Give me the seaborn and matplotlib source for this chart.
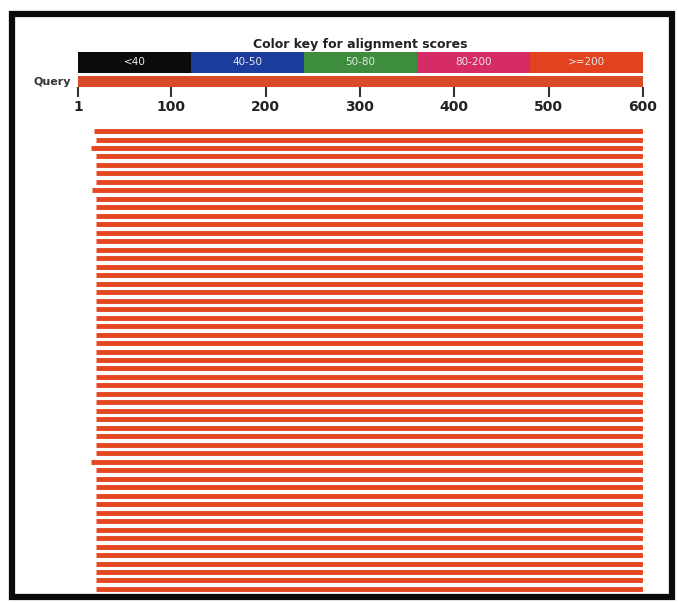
import numpy as np
import pandas as pd
import seaborn as sns
from matplotlib import pyplot as plt
from matplotlib.patches import Rectangle

# colour key for the alignment scores
score_bins = ["<40", "40-50", "50-80", "80-200", ">=200"]
bin_colors = ["#0b0b0b", "#1c3c9e", "#3e8c3e", "#d52b66", "#e2431e"]

# query coordinates
query_len = 600
tick_pos = [1, 100, 200, 300, 400, 500, 600]

# hits (start, end on the query), all scored >=200
hit_starts = [18, 20, 15, 20, 20, 20, 20, 16, 20, 20,
              20, 20, 20, 20, 20, 20, 20, 20, 20, 20,
              20, 20, 20, 20, 20, 20, 20, 20, 20, 20,
              20, 20, 20, 20, 20, 20, 20, 20, 20, 15,
              20, 20, 20, 20, 20, 20, 20, 20, 20, 20,
              20, 20, 20, 20, 20]
hit_ends = [600] * len(hit_starts)

hits = pd.DataFrame({"start": hit_starts, "end": hit_ends})
hits["row"] = np.arange(len(hits))

sns.set_style("white")
plt.rcParams['font.family'] = ['DejaVu Sans']

W, H = 678, 602
fig = plt.figure(figsize=(W / 100, H / 100), dpi=100)

def box(x0, y0, x1, y1):
    return [x0 / W, 1 - y1 / H, (x1 - x0) / W, (y1 - y0) / H]

# key + query axes
ax_key = fig.add_axes(box(78, 52, 643, 87))
edges = np.linspace(1, query_len, len(score_bins) + 1)
ax_key.barh(y=0, width=np.diff(edges), left=edges[:-1], height=1.0,
            color=bin_colors, align="edge", linewidth=0)
for lab, x0, x1 in zip(score_bins, edges[:-1], edges[1:]):
    ax_key.text((x0 + x1) / 2, 0.5, lab, color="#e8e8e8", fontsize=7.5,
                ha="center", va="center")
ax_key.barh(y=1.15, width=query_len - 1, left=1, height=0.52,
            color="#d94b27", align="edge", linewidth=0)
ax_key.set_xlim(1, query_len)
ax_key.set_ylim(1.67, 0)
ax_key.set_xticks(tick_pos)
ax_key.set_xticklabels([str(t) for t in tick_pos], fontsize=10,
                       fontweight="bold", color="#222222")
ax_key.tick_params(axis="x", direction="out", length=7.5, width=1.5,
                   color="#333333", pad=2, bottom=True)
ax_key.set_yticks([])
for s in ax_key.spines.values():
    s.set_visible(False)
ax_key.set_title("Color key for alignment scores", fontsize=9,
                 fontweight="bold", color="#222222", pad=3)
ax_key.text(-0.012, 1.41, "Query", transform=ax_key.get_yaxis_transform(),
            ha="right", va="center", fontsize=8, fontweight="bold",
            color="#333333")

# hits axes
ax_hits = fig.add_axes(box(78, 126.8, 643, 593.2))
ax_hits.hlines(hits["row"], hits["start"], hits["end"], color="#e5451f",
               linewidth=3.5)
ax_hits.set_xlim(1, query_len)
ax_hits.set_ylim(len(hits) - 0.5, -0.5)
ax_hits.set_xticks([])
ax_hits.set_yticks([])
for s in ax_hits.spines.values():
    s.set_visible(False)

# black frame around the graphic
fig.patches.append(Rectangle((12 / W, 5 / H), 660 / W, 583 / H,
                             transform=fig.transFigure, fill=False,
                             edgecolor="#0a0a0a", linewidth=4.5))

fig.savefig("out.png", dpi=100)
